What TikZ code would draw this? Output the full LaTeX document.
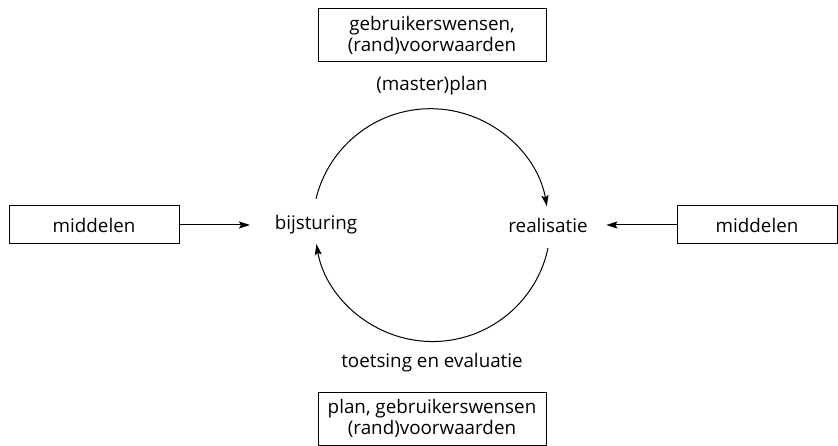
\documentclass[tikz,border=0pt]{standalone}
\usepackage{fontspec}
\setmainfont{Open Sans}
\usetikzlibrary{arrows.meta, positioning}

\begin{document}
\begin{tikzpicture}[x=1pt, y=-1pt, line width=1pt,
  >={Stealth[length=11pt,width=7pt,inset=2pt]},
  every node/.style={font=\fontsize{18.8}{20.5}\selectfont},
  kader/.style={draw, align=center, inner sep=0pt}]
\useasboundingbox (0,0) rectangle (838,446);
% kaders
\node[kader, minimum width=228pt, minimum height=53pt] (wensen) at (432,35.5) {gebruikerswensen,\\(rand)voorwaarden};
\node[kader, minimum width=228pt, minimum height=53pt] (toets) at (432,418.5) {plan, gebruikerswensen\\(rand)voorwaarden};
\node[kader, minimum width=170pt, minimum height=38pt] (middelenL) at (94,225) {middelen};
\node[kader, minimum width=160pt, minimum height=38pt] (middelenR) at (757,225) {middelen};
% cyclus
\node (bijsturing) at (316,225) {bijsturing};
\node (realisatie) at (548,225) {realisatie};
\node (plan) at (432,86) {(master)plan};
\node (evaluatie) at (432,363) {toetsing en evaluatie};
\draw[->] ([yshift=13pt]bijsturing.north) arc[start angle=166.3, end angle=10, radius=118pt];
\draw[->] ([yshift=-12pt]realisatie.south) arc[start angle=-12, end angle=-170, radius=118pt];
% middelen
\draw[->, shorten >=21pt] (middelenL) -- (bijsturing);
\draw[->, shorten >=15pt] (middelenR) -- (realisatie);
\end{tikzpicture}
\end{document}
